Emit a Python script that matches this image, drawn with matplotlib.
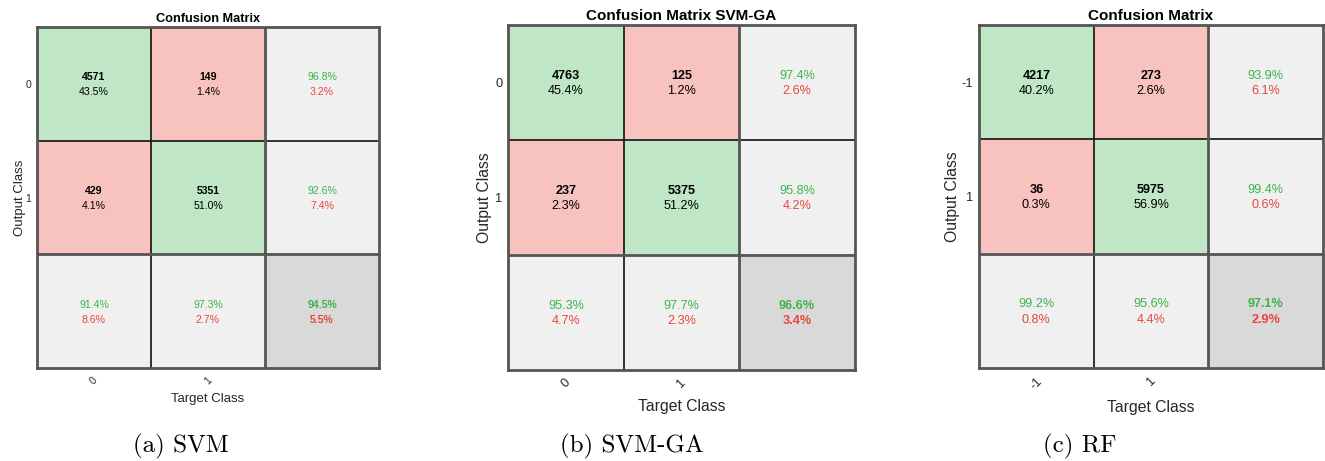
import numpy as np
import matplotlib
matplotlib.use("Agg")
import matplotlib.pyplot as plt
from matplotlib.colors import to_rgb

# values
titles = ["Confusion Matrix", "Confusion Matrix SVM-GA", "Confusion Matrix"]
captions = ["(a) SVM", "(b) SVM-GA", "(c) RF"]
class_labels = [["0", "1"], ["0", "1"], ["-1", "1"]]

svm_counts = [[4571, 149], [429, 5351]]
svm_pct = [[43.5, 1.4], [4.1, 51.0]]
svm_row = [[96.8, 3.2], [92.6, 7.4]]
svm_col = [[91.4, 8.6], [97.3, 2.7]]
svm_total = [94.5, 5.5]

ga_counts = [[4763, 125], [237, 5375]]
ga_pct = [[45.4, 1.2], [2.3, 51.2]]
ga_row = [[97.4, 2.6], [95.8, 4.2]]
ga_col = [[95.3, 4.7], [97.7, 2.3]]
ga_total = [96.6, 3.4]

rf_counts = [[4217, 273], [36, 5975]]
rf_pct = [[40.2, 2.6], [0.3, 56.9]]
rf_row = [[93.9, 6.1], [99.4, 0.6]]
rf_col = [[99.2, 0.8], [95.6, 4.4]]
rf_total = [97.1, 2.9]

GREEN_BG = "#bfe6c5"
RED_BG = "#f8c3bf"
GRAY_BG = "#f0f0f0"
DARK_BG = "#d9d9d9"
GREEN_TXT = "#3cb44b"
RED_TXT = "#e8453c"
SANS = "Liberation Sans"

W, H = 1325, 461
fig = plt.figure(figsize=(W / 100, H / 100), dpi=100)

# axes boxes in pixels: left, top, right, bottom
boxes = [(37, 27, 379, 368), (508, 25, 855, 370), (979, 25, 1323, 368)]
caption_x = [181, 632, 1080]

# per panel font sizes: cell text, tick, axis label, title
cell_fs = [7.6, 9.1, 9.1]
tick_fs = [7.5, 9.3, 9.3]
label_fs = [9.5, 11.3, 11.3]
title_fs = [9.2, 11.0, 11.0]
ylabel_pad = [0, 2, 1.5]
xlabel_pad = [5, 6, 6]


def draw_matrix(ax, counts, pct, row, col, total, labels, title, k):
    # background colour per cell
    colors = np.zeros((3, 3, 3))
    for i in range(3):
        for j in range(3):
            if i == 2 and j == 2:
                c = DARK_BG
            elif i == 2 or j == 2:
                c = GRAY_BG
            elif i == j:
                c = GREEN_BG
            else:
                c = RED_BG
            colors[i, j] = to_rgb(c)
    ax.imshow(colors, extent=(0, 3, 3, 0), aspect="auto", interpolation="nearest")
    ax.set_xlim(0, 3)
    ax.set_ylim(3, 0)

    fs = cell_fs[k]
    off = 0.066
    dy = 0.01
    for i in range(2):
        for j in range(2):
            ax.text(j + 0.5, i + 0.5 - off + dy, f"{counts[i][j]}", ha="center", va="center",
                    fontsize=fs, fontweight="bold", family=SANS)
            ax.text(j + 0.5, i + 0.5 + off + dy, f"{pct[i][j]:.1f}%", ha="center", va="center",
                    fontsize=fs, family=SANS)
        # row summary
        ax.text(2.5, i + 0.5 - off + dy, f"{row[i][0]:.1f}%", ha="center", va="center",
                fontsize=fs, color=GREEN_TXT, family=SANS)
        ax.text(2.5, i + 0.5 + off + dy, f"{row[i][1]:.1f}%", ha="center", va="center",
                fontsize=fs, color=RED_TXT, family=SANS)
        # column summary
        ax.text(i + 0.5, 2.5 - off + dy, f"{col[i][0]:.1f}%", ha="center", va="center",
                fontsize=fs, color=GREEN_TXT, family=SANS)
        ax.text(i + 0.5, 2.5 + off + dy, f"{col[i][1]:.1f}%", ha="center", va="center",
                fontsize=fs, color=RED_TXT, family=SANS)
    ax.text(2.5, 2.5 - off + dy, f"{total[0]:.1f}%", ha="center", va="center",
            fontsize=fs, color=GREEN_TXT, fontweight="bold", family=SANS)
    ax.text(2.5, 2.5 + off + dy, f"{total[1]:.1f}%", ha="center", va="center",
            fontsize=fs, color=RED_TXT, fontweight="bold", family=SANS)

    # grid lines
    ax.axhline(1, color="#111111", lw=1.2)
    ax.axvline(1, color="#111111", lw=1.2)
    ax.axhline(2, color="#555555", lw=2.0)
    ax.axvline(2, color="#555555", lw=2.0)
    for sp in ax.spines.values():
        sp.set_color("#555555")
        sp.set_linewidth(2.0)

    ax.set_xticks([0.5, 1.5])
    ax.set_xticklabels(labels, rotation=45, fontsize=tick_fs[k], family=SANS, color="#262626")
    ax.set_yticks([0.5, 1.5])
    ax.set_yticklabels(labels, fontsize=tick_fs[k], family=SANS, color="#262626")
    ax.tick_params(axis="y", length=0, pad=4)
    ax.tick_params(axis="x", length=0, pad=5)
    ax.set_xlabel("Target Class", fontsize=label_fs[k], family=SANS, color="#262626",
                  labelpad=xlabel_pad[k])
    ax.set_ylabel("Output Class", fontsize=label_fs[k], family=SANS, color="#262626",
                  labelpad=ylabel_pad[k])
    ax.set_title(title, fontsize=title_fs[k], fontweight="bold", family=SANS, pad=3.5)


data = [
    (svm_counts, svm_pct, svm_row, svm_col, svm_total),
    (ga_counts, ga_pct, ga_row, ga_col, ga_total),
    (rf_counts, rf_pct, rf_row, rf_col, rf_total),
]

for k in range(3):
    l, t, r, b = boxes[k]
    ax = fig.add_axes([l / W, 1 - b / H, (r - l) / W, (b - t) / H])
    counts, pct, row, col, total = data[k]
    draw_matrix(ax, counts, pct, row, col, total, class_labels[k], titles[k], k)
    fig.text(caption_x[k] / W, 1 - 446 / H, captions[k], ha="center", va="center",
             fontsize=18, family="cmr10")

fig.savefig("out.png", dpi=100)
